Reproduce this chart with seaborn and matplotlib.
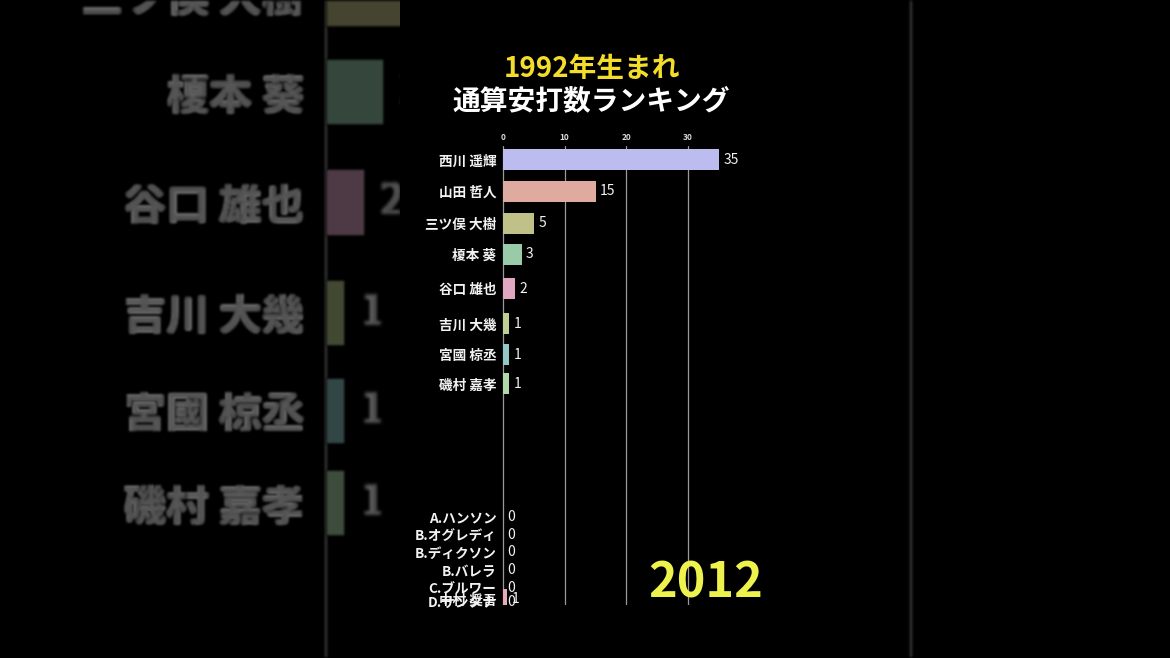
import numpy as np
import pandas as pd
import matplotlib
matplotlib.use("Agg")
import matplotlib.pyplot as plt
import matplotlib.colors as mcolors
import seaborn as sns

# ---------------- data (one frame of a bar-chart race, year 2012) ----------------
names = ["西川 遥輝", "山田 哲人", "三ツ俣 大樹", "榎本 葵", "谷口 雄也",
         "吉川 大幾", "宮國 椋丞", "磯村 嘉孝",
         "A.ハンソン", "B.オグレディ", "B.ディクソン", "B.バレラ", "C.ブルワー",
         "D.サンタナ", "中村 奨吾"]
hits = [35, 15, 5, 3, 2, 1, 1, 1, 0, 0, 0, 0, 0, 0, 0.7]
rank = [0.0, 0.97, 1.97, 2.94, 4.03, 5.125, 6.09, 7.0,
        11.16, 11.72, 12.25, 12.81, 13.37, 13.8, 13.72]
colors = ["#b4b4f6", "#e9a497", "#c9c980", "#90d4a6", "#e99dc2",
          "#c2d98a", "#8ad1d0", "#a9e1a0",
          "#d0d0ff", "#d0d0ff", "#d0d0ff", "#d0d0ff", "#d0d0ff",
          "#d0d0ff", "#eda3b0"]
xticks = [0, 10, 20, 30]
title1 = "1992年生まれ"
title2 = "通算安打数ランキング"
year = "2012"

df = pd.DataFrame({"name": names, "hits": hits, "rank": rank})

sns.set_theme(style="white")
plt.rcParams["font.family"] = ["Noto Sans CJK JP", "DejaVu Sans"]

W, H = 1170, 658
fig = plt.figure(figsize=(W / 100, H / 100), dpi=100, facecolor="black")

CX, CY = 585, 329          # centre of the frame
PX_UNIT = 6.17             # px per hit in the foreground panel
ROW = 32.0                 # px per rank step
R0 = 160.0                 # px of rank 0
AX_L, AX_R, AX_T, AX_B = 502, 734, 146, 605


def blur_filter(radius):
    sigma = radius / 2.0
    r = int(radius)
    k = np.exp(-0.5 * (np.arange(-r, r + 1) / sigma) ** 2)
    k /= k.sum()

    def f(img, dpi):
        pad = r + 2
        a = np.pad(img, ((pad, pad), (pad, pad), (0, 0)))
        for axis in (0, 1):
            out = np.zeros_like(a)
            for i, w in enumerate(k):
                out += w * np.roll(a, i - r, axis=axis)
            a = out
        return a, -pad, -pad
    return f


def dimc(c, d):
    rgb = np.array(mcolors.to_rgb(c)) * d
    return tuple(rgb)


def draw(s, d, zorder, filt=None):
    def fx(x):
        return (CX + s * (x - CX)) / W

    def fy(y):
        return 1 - (CY + s * (y - CY)) / H

    left, right = fx(AX_L), fx(AX_R)
    top, bottom = fy(AX_T), fy(AX_B)
    ax = fig.add_axes([left, bottom, right - left, top - bottom], zorder=zorder)
    ax.set_facecolor("none")
    ax.patch.set_alpha(0)

    min_diff = np.min(np.diff(np.sort(np.array(rank))))
    pal = {n: dimc(c, d) for n, c in zip(names, colors)}
    sns.barplot(data=df, x="hits", y="rank", hue="name", palette=pal,
                orient="h", native_scale=True, width=(21 / ROW) / min_diff,
                errorbar=None, legend=False, ax=ax, linewidth=0, zorder=3)

    ax.set_xlim((AX_L - 503) / PX_UNIT, (AX_R - 503) / PX_UNIT)
    ax.set_ylim((AX_B - R0) / ROW, (AX_T - R0) / ROW)
    for sp in ax.spines.values():
        sp.set_visible(False)
    ax.set_xlabel("")
    ax.set_ylabel("")
    ax.xaxis.tick_top()
    ax.set_xticks(xticks)
    ax.set_xticklabels([str(t) for t in xticks], fontweight="bold")
    ax.tick_params(axis="x", length=0, pad=3.0 * s, labelsize=6 * s,
                   labelcolor=dimc("#dcdcdc", d))
    ax.set_yticks(rank)
    ax.set_yticklabels(names, fontweight="bold")
    ax.tick_params(axis="y", length=0, pad=4.0 * s, labelsize=9.8 * s,
                   labelcolor=dimc("#f2f2f2", d))
    ax.grid(False)
    for t in xticks:
        ln = ax.axvline(t, color=dimc("#9a9a9a", d), lw=0.9 * s, zorder=1)
        if filt:
            ln.set_agg_filter(filt)
    for v, r in zip(hits, rank):
        a = ax.annotate(f"{round(v)}", (v, r), xytext=(3.2 * s, 0),
                        textcoords="offset points", ha="left", va="center",
                        fontsize=10 * s, color=dimc("#f2f2f2", d), zorder=4)
        if filt:
            a.set_agg_filter(filt)
    if filt:
        for p in ax.patches:
            p.set_agg_filter(filt)
        for lab in ax.get_yticklabels() + ax.get_xticklabels():
            lab.set_agg_filter(filt)

    fig.text(fx(592), fy(69), title1, ha="center", va="center",
             fontsize=20 * s, fontweight="bold", color=dimc("#f3dc2a", d),
             zorder=zorder + 0.5)
    fig.text(fx(591), fy(101), title2, ha="center", va="center",
             fontsize=20 * s, fontweight="bold", color=dimc("#ffffff", d),
             zorder=zorder + 0.5)
    fig.text(fx(706), fy(583), year, ha="center", va="center",
             fontsize=35 * s, fontweight="bold", color=dimc("#eef24c", d),
             zorder=zorder + 0.5)
    return ax


# blurred, dimmed, zoomed background copy
draw(W / 370.0, 0.36, zorder=0, filt=blur_filter(3))

# black 9:16 panel in the middle
panel = fig.add_axes([400 / W, 0, 370 / W, 1], zorder=1)
panel.set_facecolor("black")
panel.set_xticks([])
panel.set_yticks([])
for sp in panel.spines.values():
    sp.set_visible(False)

# foreground chart
draw(1.0, 1.0, zorder=2)

fig.savefig("out.png", dpi=100, facecolor="black")
